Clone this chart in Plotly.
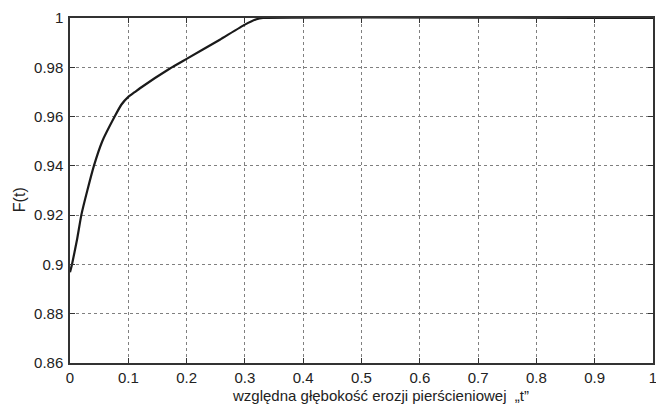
import plotly.graph_objects as go

t_vals = [0.0, 0.0034, 0.012, 0.0194, 0.0297, 0.041, 0.0554, 0.0766, 0.088, 0.1, 0.111, 0.12, 0.1714, 0.2, 0.257, 0.3, 0.32, 0.331, 1.0]
F_vals = [0.8968, 0.9, 0.91, 0.92, 0.93, 0.94, 0.95, 0.96, 0.9648, 0.968, 0.9699, 0.9715, 0.9795, 0.9834, 0.9912, 0.9973, 0.9995, 1.0, 1.0]

x_ticks = [0, 0.1, 0.2, 0.3, 0.4, 0.5, 0.6, 0.7, 0.8, 0.9, 1]
x_tick_labels = ["0", "0.1", "0.2", "0.3", "0.4", "0.5", "0.6", "0.7", "0.8", "0.9", "1"]
y_ticks = [0.86, 0.88, 0.9, 0.92, 0.94, 0.96, 0.98, 1]
y_tick_labels = ["0.86", "0.88", "0.9", "0.92", "0.94", "0.96", "0.98", "1"]

x_title = "względna głębokość erozji pierścieniowej  „t”"
y_title = "F(t)"

fig = go.Figure()
fig.add_trace(go.Scatter(
    x=t_vals, y=F_vals, mode="lines",
    line=dict(color="#1a1a1a", width=2.2, shape="spline", smoothing=0.4),
    showlegend=False, hoverinfo="skip",
))

font_family = "Liberation Sans, Arial, sans-serif"
axis_common = dict(
    showline=True, linecolor="#333333", linewidth=1.5, mirror="allticks",
    ticks="inside", ticklen=5, tickcolor="#333333", tickwidth=1,
    showgrid=True, gridcolor="#808080", gridwidth=1, griddash="dot",
    zeroline=False, tickfont=dict(family=font_family, size=15, color="#222222"),
    automargin=False, ticklabeloverflow="allow",
)

fig.update_xaxes(range=[0, 1], tickvals=x_ticks, ticktext=x_tick_labels, ticklabelstandoff=0, **axis_common)
fig.update_yaxes(range=[0.86, 1], tickvals=y_ticks, ticktext=y_tick_labels, ticklabelstandoff=2, **axis_common)

fig.add_annotation(
    text=x_title, xref="paper", yref="paper", x=0.532, y=0, xanchor="center", yanchor="middle",
    yshift=-32, showarrow=False, font=dict(family=font_family, size=15, color="#222222"),
)
fig.add_annotation(
    text=y_title, xref="paper", yref="paper", x=0, y=0.472, xanchor="center", yanchor="middle",
    xshift=-51, textangle=-90, showarrow=False, font=dict(family=font_family, size=16, color="#222222"),
)

fig.update_layout(
    width=656, height=410,
    margin=dict(l=70, r=3, t=18, b=47),
    paper_bgcolor="white", plot_bgcolor="white",
)

fig.write_html("out.html", config={"displayModeBar": False},
               post_script="document.body.style.margin='0';")
